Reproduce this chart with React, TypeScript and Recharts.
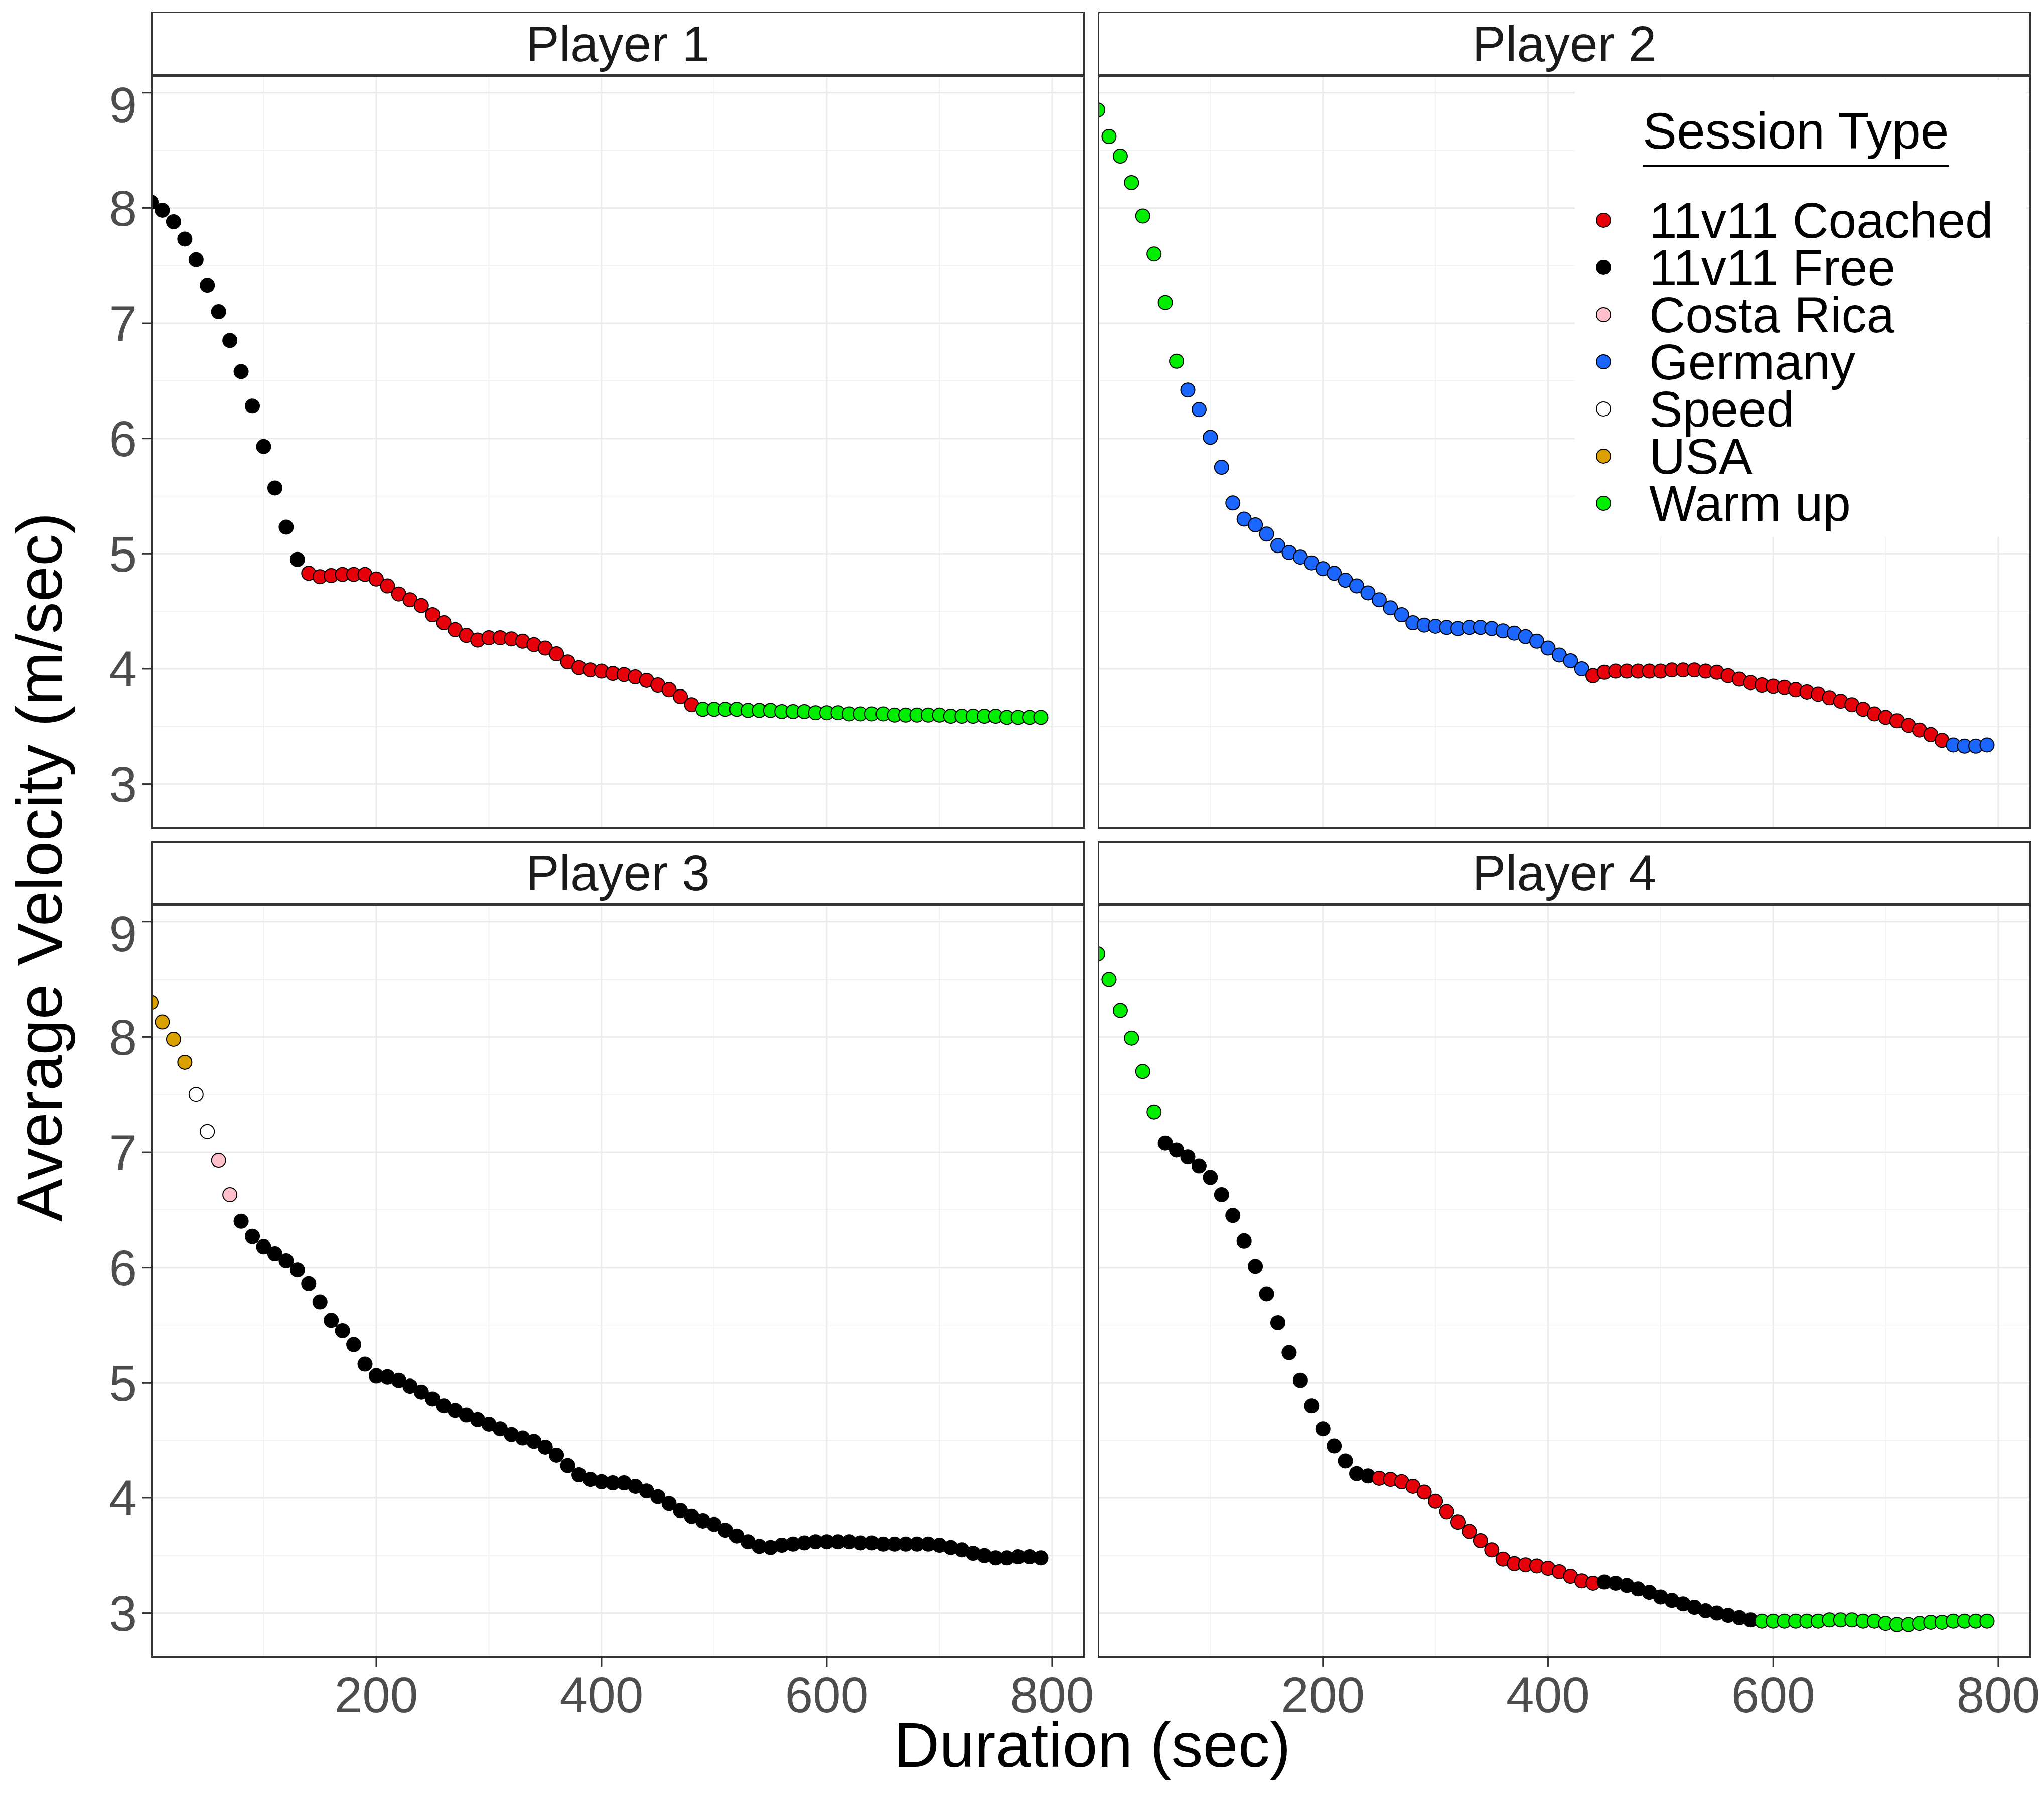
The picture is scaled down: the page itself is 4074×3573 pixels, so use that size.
import React from 'react';
import { ScatterChart, Scatter, XAxis, YAxis, ReferenceLine } from 'recharts';

// every value is one 10-second step, starting at the given time
const p1FreeStart = 0;
const p1Free = [8.05, 7.98, 7.88, 7.73, 7.55, 7.33, 7.1, 6.85, 6.58, 6.28, 5.93, 5.57, 5.23, 4.95];
const p1CoachedStart = 140;
const p1Coached = [4.83, 4.8, 4.81, 4.82, 4.82, 4.82, 4.78, 4.72, 4.65, 4.6, 4.55, 4.47, 4.4, 4.34, 4.29, 4.25,
  4.27, 4.27, 4.26, 4.24, 4.21, 4.18, 4.13, 4.06, 4.01, 3.99, 3.98, 3.96, 3.95, 3.93, 3.9, 3.86, 3.82, 3.76, 3.69];
const p1WarmStart = 490;
const p1Warm = [3.65, 3.65, 3.65, 3.65, 3.64, 3.64, 3.64, 3.63, 3.63, 3.63, 3.62, 3.62, 3.62, 3.61, 3.61, 3.61,
  3.61, 3.6, 3.6, 3.6, 3.6, 3.6, 3.59, 3.59, 3.59, 3.59, 3.59, 3.58, 3.58, 3.58, 3.58];

const p2WarmStart = 0;
const p2Warm = [8.85, 8.62, 8.45, 8.22, 7.93, 7.6, 7.18, 6.67];
const p2GermanyStart = 80;
const p2Germany = [6.42, 6.25, 6.01, 5.75, 5.44, 5.3, 5.25, 5.17, 5.07, 5.01, 4.97, 4.92, 4.87, 4.83, 4.77, 4.72,
  4.66, 4.6, 4.53, 4.47, 4.4, 4.38, 4.37, 4.36, 4.35, 4.36, 4.36, 4.35, 4.33, 4.31, 4.28, 4.24, 4.18, 4.12, 4.07, 4.0, 3.94];
const p2CoachedStart = 440;
const p2Coached = [3.94, 3.97, 3.98, 3.98, 3.98, 3.98, 3.98, 3.99, 3.99, 3.99, 3.98, 3.97, 3.94, 3.91, 3.88, 3.86,
  3.85, 3.84, 3.82, 3.8, 3.78, 3.75, 3.72, 3.69, 3.65, 3.61, 3.58, 3.55, 3.51, 3.47, 3.43, 3.38];
const p2Germany2Start = 760;
const p2Germany2 = [3.34, 3.33, 3.33, 3.34];

const p3UsaStart = 0;
const p3Usa = [8.3, 8.13, 7.98, 7.78];
const p3SpeedStart = 40;
const p3Speed = [7.5, 7.18];
const p3CostaStart = 60;
const p3Costa = [6.93, 6.63];
const p3FreeStart = 80;
const p3Free = [6.4, 6.27, 6.18, 6.12, 6.06, 5.98, 5.86, 5.7, 5.54, 5.45, 5.33, 5.16,
  5.06, 5.05, 5.02, 4.97, 4.92, 4.86, 4.8, 4.76, 4.72, 4.68, 4.64,
  4.6, 4.55, 4.52, 4.49, 4.44, 4.37, 4.28, 4.2, 4.16,
  4.14, 4.13, 4.13, 4.1, 4.06, 4.01, 3.95, 3.89, 3.84, 3.8,
  3.77, 3.72, 3.67, 3.62, 3.58, 3.57, 3.59, 3.6, 3.61, 3.62,
  3.62, 3.62, 3.62, 3.61, 3.61, 3.6, 3.6, 3.6, 3.6, 3.6,
  3.59, 3.57, 3.55, 3.52, 3.5, 3.48, 3.48, 3.49, 3.49, 3.48];

const p4WarmStart = 0;
const p4Warm = [8.72, 8.5, 8.23, 7.99, 7.7, 7.35];
const p4FreeStart = 60;
const p4Free = [7.08, 7.02, 6.96, 6.88, 6.78, 6.63, 6.45, 6.23, 6.01, 5.77, 5.52, 5.26, 5.02, 4.8, 4.6, 4.45, 4.32, 4.21, 4.19];
const p4CoachedStart = 250;
const p4Coached = [4.17, 4.16, 4.14, 4.1, 4.05, 3.97, 3.88, 3.79, 3.71, 3.63, 3.55, 3.47, 3.43, 3.42, 3.41, 3.39, 3.36, 3.32, 3.28, 3.26];
const p4Free2Start = 450;
const p4Free2 = [3.27, 3.26, 3.24, 3.21, 3.18, 3.14, 3.11, 3.08, 3.05, 3.02, 3.0, 2.98, 2.96, 2.94];
const p4Warm2Start = 590;
const p4Warm2 = [2.93, 2.93, 2.93, 2.93, 2.93, 2.93, 2.94, 2.94, 2.94, 2.93, 2.93, 2.91, 2.9, 2.9, 2.91, 2.92, 2.92, 2.93, 2.93, 2.93, 2.93];

const sessionTypes = ['11v11 Coached', '11v11 Free', 'Costa Rica', 'Germany', 'Speed', 'USA', 'Warm up'];
const colors: Record<string, string> = {
  '11v11 Coached': '#e8000b',
  '11v11 Free': '#000000',
  'Costa Rica': '#ffc0cb',
  'Germany': '#1a66ff',
  'Speed': '#ffffff',
  'USA': '#d9a000',
  'Warm up': '#00ee00',
};

const xTicks = [200, 400, 600, 800];
const xMinor = [100, 300, 500, 700];
const yTicks = [3, 4, 5, 6, 7, 8, 9];
const yMinor = [3.5, 4.5, 5.5, 6.5, 7.5, 8.5];

const toPts = (start: number, vals: number[]) => vals.map((y, i) => ({ x: start + i * 10, y }));

const panels = [
  { title: 'Player 1', segs: [['11v11 Free', p1FreeStart, p1Free], ['11v11 Coached', p1CoachedStart, p1Coached], ['Warm up', p1WarmStart, p1Warm]] },
  { title: 'Player 2', segs: [['Warm up', p2WarmStart, p2Warm], ['Germany', p2GermanyStart, p2Germany], ['11v11 Coached', p2CoachedStart, p2Coached], ['Germany', p2Germany2Start, p2Germany2]] },
  { title: 'Player 3', segs: [['USA', p3UsaStart, p3Usa], ['Speed', p3SpeedStart, p3Speed], ['Costa Rica', p3CostaStart, p3Costa], ['11v11 Free', p3FreeStart, p3Free]] },
  { title: 'Player 4', segs: [['Warm up', p4WarmStart, p4Warm], ['11v11 Free', p4FreeStart, p4Free], ['11v11 Coached', p4CoachedStart, p4Coached], ['11v11 Free', p4Free2Start, p4Free2], ['Warm up', p4Warm2Start, p4Warm2]] },
] as { title: string; segs: [string, number, number[]][] }[];

const FONT = '"Liberation Sans", Arial, sans-serif';
const R = 14;
const YW = 200;
const XH = 150;
const PH = 1500;
const RM = 80;
const lefts = [301, 2188];
const widths = [1861, 1860];
const stripTops = [23, 1676];
const plotTops = [151, 1803];

const Panel = ({ idx }: { idx: number }) => {
  const p = panels[idx];
  const col = idx % 2;
  const row = Math.floor(idx / 2);
  const showY = col === 0;
  const showX = row === 1;
  const w = widths[col] + (showY ? YW : 0) + RM;
  const h = PH + (showX ? XH : 0);
  return (
    <>
      <div style={{ position: 'absolute', left: lefts[col], top: stripTops[row], width: widths[col], height: plotTops[row] - stripTops[row],
        border: '3px solid #333', boxSizing: 'border-box', background: '#fff', display: 'flex', alignItems: 'center', justifyContent: 'center',
        fontSize: 100, color: '#1a1a1a', fontFamily: FONT }}>{p.title}</div>
      <div style={{ position: 'absolute', left: lefts[col] - (showY ? YW : 0), top: plotTops[row] }}>
        <ScatterChart width={w} height={h} margin={{ top: 0, right: RM, bottom: 0, left: 0 }}>
          <XAxis type="number" dataKey="x" domain={[0, 829]} ticks={xTicks} allowDataOverflow hide={!showX} height={XH}
            axisLine={false} tickSize={18} tickLine={{ stroke: '#333', strokeWidth: 3 }}
            tick={{ fill: '#4d4d4d', fontSize: 100, fontFamily: FONT, dy: 18 }} />
          <YAxis type="number" dataKey="y" domain={[2.615, 9.147]} ticks={yTicks} allowDataOverflow hide={!showY} width={YW}
            axisLine={false} tickSize={18} tickLine={{ stroke: '#333', strokeWidth: 3 }}
            tick={{ fill: '#4d4d4d', fontSize: 100, fontFamily: FONT, dx: -8 }} />
          {xMinor.map(v => <ReferenceLine key={'xm' + v} x={v} stroke="#f0f0f0" strokeWidth={1.5} />)}
          {yMinor.map(v => <ReferenceLine key={'ym' + v} y={v} stroke="#f0f0f0" strokeWidth={1.5} />)}
          {xTicks.map(v => <ReferenceLine key={'x' + v} x={v} stroke="#ebebeb" strokeWidth={3} />)}
          {yTicks.map(v => <ReferenceLine key={'y' + v} y={v} stroke="#ebebeb" strokeWidth={3} />)}
          {p.segs.map(([type, start, vals], i) => (
            <Scatter key={i} data={toPts(start, vals)} isAnimationActive={false}
              shape={(s: any) => <circle cx={s.cx} cy={s.cy} r={R} fill={colors[type]} stroke="#000" strokeWidth={2} />} />
          ))}
        </ScatterChart>
      </div>
      <div style={{ position: 'absolute', left: lefts[col], top: plotTops[row], width: widths[col], height: PH,
        border: '3px solid #333', boxSizing: 'border-box', pointerEvents: 'none' }} />
    </>
  );
};

export default function App() {
  document.body.style.margin = '0';
  return (
    <div style={{ position: 'relative', width: 4074, height: 3573, background: '#fff', fontFamily: FONT, overflow: 'hidden' }}>
      {[0, 1, 2, 3].map(i => <Panel key={i} idx={i} />)}
      <div style={{ position: 'absolute', left: 3139, top: 160, width: 900, height: 910, background: '#fff' }}>
        <div style={{ position: 'absolute', left: 135, top: 50, fontSize: 102, color: '#000', lineHeight: 1,
          borderBottom: '4px solid #000', paddingBottom: 16 }}>Session Type</div>
        {sessionTypes.map((t, i) => (
          <div key={t} style={{ position: 'absolute', left: 0, top: 279 + i * 94 - 47, height: 94, display: 'flex', alignItems: 'center' }}>
            <svg width={140} height={94}><circle cx={57} cy={47} r={R} fill={colors[t]} stroke="#000" strokeWidth={2} /></svg>
            <span style={{ fontSize: 100, color: '#000', marginLeft: 8, lineHeight: '94px' }}>{t}</span>
          </div>
        ))}
      </div>
      <div style={{ position: 'absolute', left: 0, width: 4074, top: 3405, textAlign: 'center', paddingLeft: 280, boxSizing: 'border-box',
        fontSize: 126, color: '#000' }}>Duration (sec)</div>
      <div style={{ position: 'absolute', left: 78, top: 1728, transform: 'translate(-50%, -50%) rotate(-90deg)', whiteSpace: 'nowrap',
        fontSize: 128, color: '#000' }}>Average Velocity (m/sec)</div>
    </div>
  );
}
